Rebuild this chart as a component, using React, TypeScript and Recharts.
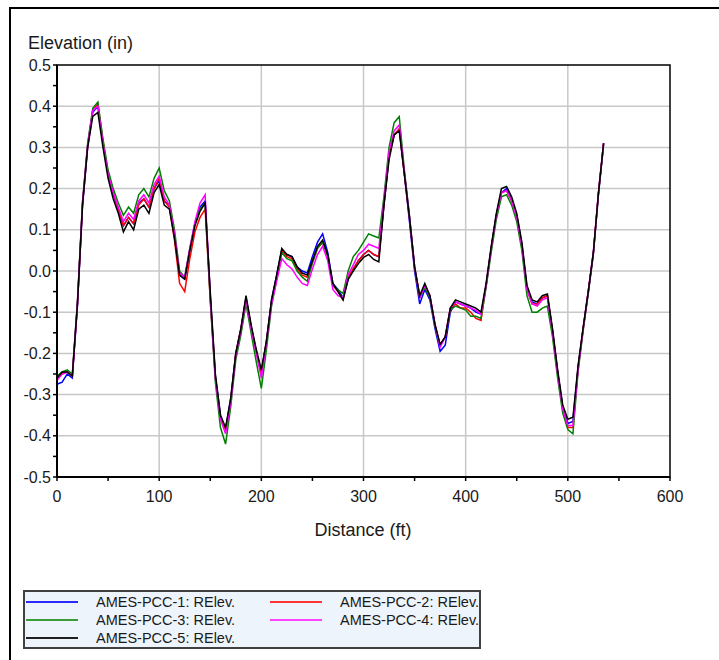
import { CartesianGrid, Line, LineChart, ReferenceArea, XAxis, YAxis } from "recharts";

const distance = [
  0, 5, 10, 15, 20, 25, 30, 35, 40, 45, 50, 55, 60, 65, 70, 75, 80, 85, 90, 95,
  100, 105, 110, 115, 120, 125, 130, 135, 140, 145, 150, 155, 160, 165, 170, 175, 180, 185, 190, 195,
  200, 205, 210, 215, 220, 225, 230, 235, 240, 245, 250, 255, 260, 265, 270, 275, 280, 285, 290, 295,
  300, 305, 310, 315, 320, 325, 330, 335, 340, 345, 350, 355, 360, 365, 370, 375, 380, 385, 390, 395,
  400, 405, 410, 415, 420, 425, 430, 435, 440, 445, 450, 455, 460, 465, 470, 475, 480, 485, 490, 495,
  500, 505, 510, 515, 520, 525, 530, 535,
];

const pcc1 = [
  -0.275, -0.27, -0.25, -0.26, -0.085, 0.16, 0.3, 0.385, 0.4, 0.31,
  0.235, 0.185, 0.15, 0.11, 0.13, 0.115, 0.165, 0.175, 0.155, 0.2,
  0.22, 0.17, 0.16, 0.085, -0.01, -0.02, 0.05, 0.115, 0.155, 0.17,
  -0.06, -0.255, -0.35, -0.385, -0.31, -0.2, -0.14, -0.065, -0.135, -0.195,
  -0.245, -0.17, -0.07, -0.01, 0.05, 0.04, 0.035, 0.01, 0.0, -0.005,
  0.035, 0.07, 0.09, 0.045, -0.03, -0.045, -0.065, -0.02, 0.005, 0.025,
  0.04, 0.05, 0.04, 0.035, 0.16, 0.28, 0.33, 0.345, 0.235, 0.12,
  0.0, -0.08, -0.045, -0.07, -0.14, -0.195, -0.18, -0.1, -0.075, -0.08,
  -0.085, -0.09, -0.1, -0.105, -0.035, 0.055, 0.135, 0.19, 0.2, 0.175,
  0.135, 0.065, -0.04, -0.075, -0.08, -0.065, -0.06, -0.145, -0.245, -0.33,
  -0.37, -0.365, -0.235, -0.14, -0.05, 0.045, 0.19, 0.31,
];

const pcc2 = [
  -0.26, -0.25, -0.245, -0.255, -0.08, 0.165, 0.305, 0.39, 0.405, 0.315,
  0.235, 0.19, 0.15, 0.11, 0.13, 0.115, 0.16, 0.175, 0.155, 0.2,
  0.225, 0.17, 0.155, 0.075, -0.03, -0.05, 0.03, 0.095, 0.13, 0.15,
  -0.07, -0.26, -0.355, -0.385, -0.315, -0.2, -0.14, -0.065, -0.135, -0.195,
  -0.25, -0.17, -0.075, -0.015, 0.05, 0.035, 0.03, 0.005, -0.01, -0.015,
  0.02, 0.055, 0.07, 0.035, -0.035, -0.05, -0.07, -0.015, 0.005, 0.025,
  0.04, 0.05, 0.04, 0.035, 0.16, 0.28, 0.33, 0.345, 0.235, 0.13,
  0.01, -0.06, -0.035, -0.06, -0.13, -0.18, -0.16, -0.09, -0.08, -0.09,
  -0.09, -0.1, -0.115, -0.12, -0.035, 0.055, 0.135, 0.19, 0.195, 0.17,
  0.13, 0.06, -0.045, -0.08, -0.08, -0.065, -0.06, -0.145, -0.245, -0.335,
  -0.38, -0.38, -0.235, -0.14, -0.05, 0.045, 0.19, 0.31,
];

const pcc3 = [
  -0.255, -0.245, -0.24, -0.25, -0.075, 0.17, 0.31, 0.395, 0.41, 0.32,
  0.245, 0.2, 0.165, 0.135, 0.155, 0.14, 0.185, 0.2, 0.18, 0.225,
  0.25, 0.195, 0.17, 0.1, 0.0, -0.015, 0.055, 0.115, 0.15, 0.165,
  -0.07, -0.27, -0.38, -0.42, -0.33, -0.215, -0.155, -0.08, -0.15, -0.22,
  -0.285, -0.19, -0.085, -0.02, 0.045, 0.03, 0.025, 0.0, -0.015, -0.025,
  0.02, 0.055, 0.07, 0.035, -0.035, -0.045, -0.055, 0.0, 0.035, 0.05,
  0.07, 0.09, 0.085, 0.08, 0.18, 0.3, 0.36, 0.375, 0.245, 0.135,
  0.01, -0.065, -0.04, -0.065, -0.135, -0.18, -0.16, -0.095, -0.085, -0.09,
  -0.095, -0.11, -0.11, -0.115, -0.04, 0.045, 0.125, 0.18, 0.185, 0.16,
  0.12, 0.05, -0.06, -0.1, -0.1, -0.09, -0.085, -0.16, -0.26, -0.345,
  -0.385, -0.395, -0.245, -0.145, -0.055, 0.04, 0.185, 0.305,
];

const pcc4 = [
  -0.265, -0.25, -0.245, -0.255, -0.08, 0.165, 0.305, 0.39, 0.4, 0.31,
  0.235, 0.19, 0.155, 0.12, 0.14, 0.125, 0.17, 0.185, 0.165, 0.21,
  0.23, 0.18, 0.16, 0.09, -0.005, -0.015, 0.055, 0.12, 0.165, 0.185,
  -0.06, -0.26, -0.36, -0.395, -0.32, -0.205, -0.145, -0.07, -0.14, -0.2,
  -0.26, -0.175, -0.08, -0.025, 0.03, 0.015, 0.005, -0.015, -0.03, -0.035,
  0.005, 0.04, 0.06, 0.025, -0.045, -0.06, -0.065, -0.01, 0.015, 0.04,
  0.05, 0.065, 0.06, 0.055, 0.17, 0.29, 0.34, 0.355, 0.24, 0.13,
  0.01, -0.065, -0.035, -0.06, -0.13, -0.185, -0.16, -0.09, -0.075, -0.08,
  -0.085, -0.09, -0.095, -0.105, -0.035, 0.055, 0.135, 0.19, 0.195, 0.17,
  0.13, 0.06, -0.045, -0.08, -0.085, -0.07, -0.065, -0.15, -0.25, -0.335,
  -0.375, -0.375, -0.24, -0.14, -0.05, 0.045, 0.19, 0.31,
];

const pcc5 = [
  -0.26, -0.245, -0.245, -0.255, -0.08, 0.16, 0.3, 0.375, 0.385, 0.3,
  0.225, 0.175, 0.14, 0.095, 0.12, 0.1, 0.15, 0.16, 0.14, 0.19,
  0.21, 0.16, 0.15, 0.08, -0.01, -0.02, 0.05, 0.11, 0.145, 0.165,
  -0.05, -0.25, -0.35, -0.38, -0.31, -0.2, -0.14, -0.06, -0.13, -0.19,
  -0.24, -0.17, -0.07, -0.01, 0.055, 0.04, 0.035, 0.01, -0.005, -0.01,
  0.025, 0.06, 0.075, 0.04, -0.03, -0.05, -0.07, -0.02, 0.0, 0.018,
  0.033, 0.04, 0.028, 0.022, 0.16, 0.27, 0.33, 0.34, 0.235, 0.13,
  0.01, -0.06, -0.03, -0.06, -0.13, -0.178, -0.16, -0.09, -0.07, -0.075,
  -0.08, -0.085, -0.09, -0.1, -0.03, 0.06, 0.14, 0.2, 0.205, 0.18,
  0.14, 0.07, -0.035, -0.07, -0.075, -0.06, -0.056, -0.14, -0.24, -0.325,
  -0.36, -0.355, -0.23, -0.137, -0.05, 0.045, 0.19, 0.31,
];

const xTicks = [0, 50, 100, 150, 200, 250, 300, 350, 400, 450, 500, 550, 600];
const xGrid = [100, 200, 300, 400, 500];
const yTicks = [
  -0.5, -0.45, -0.4, -0.35, -0.3, -0.25, -0.2, -0.15, -0.1, -0.05, 0,
  0.05, 0.1, 0.15, 0.2, 0.25, 0.3, 0.35, 0.4, 0.45, 0.5,
];
const yGrid = [-0.4, -0.3, -0.2, -0.1, 0, 0.1, 0.2, 0.3, 0.4];

const series = [
  { key: "pcc1", name: "AMES-PCC-1: RElev.", color: "#0000ff", swatch: "#2a2aff", values: pcc1 },
  { key: "pcc2", name: "AMES-PCC-2: RElev.", color: "#ff0000", swatch: "#ff3333", values: pcc2 },
  { key: "pcc3", name: "AMES-PCC-3: RElev.", color: "#008000", swatch: "#3c9c3c", values: pcc3 },
  { key: "pcc4", name: "AMES-PCC-4: RElev.", color: "#ff00ff", swatch: "#ff44ff", values: pcc4 },
  { key: "pcc5", name: "AMES-PCC-5: RElev.", color: "#000000", swatch: "#202020", values: pcc5 },
];

const rows = distance.map((d, i) => {
  const row: Record<string, number> = { distance: d };
  series.forEach((s) => {
    row[s.key] = s.values[i];
  });
  return row;
});

const font = "'Liberation Sans', Arial, sans-serif";

export default function App() {
  return (
    <div
      style={{
        position: "absolute",
        left: 0,
        top: 0,
        width: 719,
        height: 660,
        background: "#fff",
        overflow: "hidden",
        fontFamily: font,
      }}
    >
      <div
        style={{
          position: "absolute",
          left: 9,
          top: 7,
          width: 720,
          height: 660,
          borderLeft: "2px solid #000",
          borderTop: "2px solid #000",
        }}
      />
      <div style={{ position: "absolute", left: 0, top: 0 }}>
        <LineChart
          width={719}
          height={660}
          data={rows}
          margin={{ top: 65, right: 49, bottom: 153, left: 7 }}
        >
          <CartesianGrid
            stroke="#c8c8c8"
            strokeWidth={1.5}
            horizontalValues={yGrid}
            verticalValues={xGrid}
          />
          <XAxis
            dataKey="distance"
            type="number"
            domain={[0, 600]}
            ticks={xTicks}
            interval={0}
            height={30}
            tickSize={4}
            tickMargin={10}
            tickFormatter={(v: number) => (v % 100 === 0 ? String(v) : "")}
            axisLine={{ stroke: "#000", strokeWidth: 2 }}
            tickLine={{ stroke: "#000", strokeWidth: 1.5 }}
            tick={{ fill: "#1a1a1a", fontSize: 16, fontFamily: font }}
          />
          <YAxis
            type="number"
            domain={[-0.5, 0.5]}
            ticks={yTicks}
            interval={0}
            width={50}
            tickSize={4}
            tickMargin={2}
            tickFormatter={(v: number) =>
              Math.round(v * 100) % 10 === 0 ? v.toFixed(1) : ""
            }
            axisLine={{ stroke: "#000", strokeWidth: 2 }}
            tickLine={{ stroke: "#000", strokeWidth: 1.5 }}
            tick={{ fill: "#1a1a1a", fontSize: 16, fontFamily: font }}
          />
          {series.map((s) => (
            <Line
              key={s.key}
              type="linear"
              dataKey={s.key}
              stroke={s.color}
              strokeWidth={1.5}
              dot={false}
              activeDot={false}
              isAnimationActive={false}
            />
          ))}
          <ReferenceArea
            x1={0}
            x2={600}
            y1={-0.5}
            y2={0.5}
            fill="none"
            stroke="#000"
            strokeWidth={1.5}
            ifOverflow="visible"
          />
        </LineChart>
      </div>
      <div
        style={{
          position: "absolute",
          left: 28,
          top: 34,
          fontSize: 18,
          lineHeight: 1,
          color: "#1a1a1a",
          whiteSpace: "nowrap",
        }}
      >
        Elevation (in)
      </div>
      <div
        style={{
          position: "absolute",
          left: 263,
          top: 521,
          width: 200,
          textAlign: "center",
          fontSize: 18,
          lineHeight: 1,
          color: "#1a1a1a",
          whiteSpace: "nowrap",
        }}
      >
        Distance (ft)
      </div>
      <div
        style={{
          position: "absolute",
          left: 23,
          top: 590,
          width: 458,
          height: 59,
          boxSizing: "border-box",
          border: "2px solid #404040",
          background: "#eef4fb",
        }}
      >
        {series.map((s, i) => {
          const col = i % 2;
          const row = Math.floor(i / 2);
          const cy = 10 + row * 18;
          return (
            <div key={s.key}>
              <div
                style={{
                  position: "absolute",
                  left: 1 + col * 244,
                  top: cy - 1,
                  width: 52,
                  height: 2,
                  background: s.swatch,
                }}
              />
              <div
                style={{
                  position: "absolute",
                  left: 71 + col * 244,
                  top: cy - 7,
                  fontSize: 14.5,
                  lineHeight: "14.5px",
                  color: "#1a1a1a",
                  whiteSpace: "nowrap",
                }}
              >
                {s.name}
              </div>
            </div>
          );
        })}
      </div>
    </div>
  );
}
